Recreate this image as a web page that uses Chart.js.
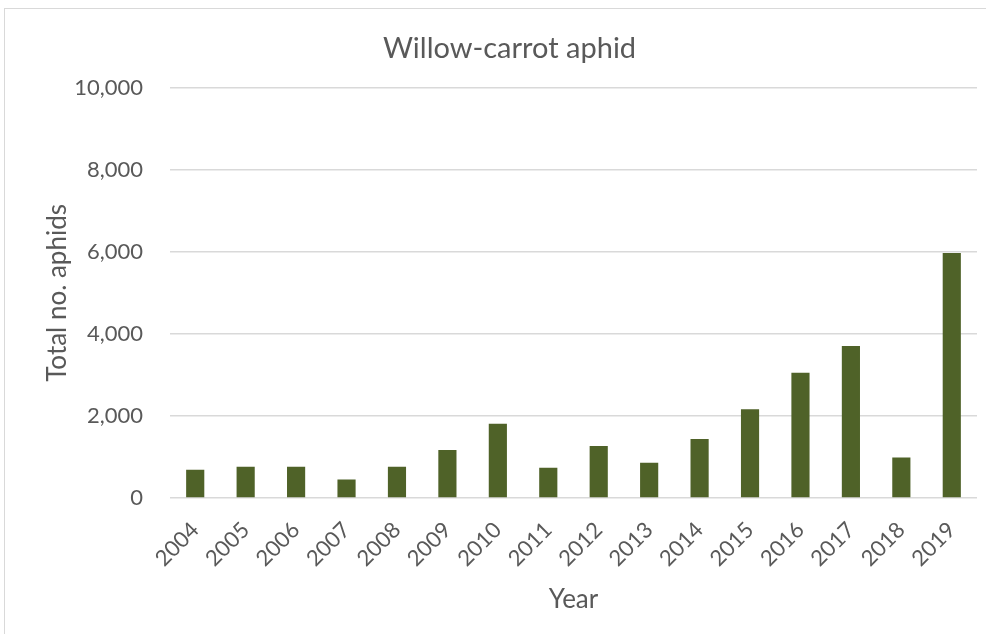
<!DOCTYPE html>
<html>
<head>
<meta charset="utf-8">
<script src="https://cdn.jsdelivr.net/npm/chart.js@4"></script>
<style>
  html, body { margin: 0; padding: 0; background: #fff; overflow: hidden; }
  #frame {
    position: absolute; left: 4px; top: 8px; width: 1000px; height: 640px;
    border-top: 1.5px solid #d9d9d9; border-left: 1.5px solid #d9d9d9;
  }
  #wrap { position: absolute; left: 0; top: 0; width: 986px; height: 634px; }
</style>
</head>
<body>
<div id="frame"></div>
<div id="wrap"><canvas id="myChart"></canvas></div>
<script>
'use strict';

let years = ['2004', '2005', '2006', '2007', '2008', '2009', '2010', '2011',
  '2012', '2013', '2014', '2015', '2016', '2017', '2018', '2019'];
let aphidTotals = [690, 760, 760, 450, 760, 1170, 1810, 735,
  1266, 857, 1437, 2164, 3053, 3706, 989, 5973];
let yTicks = [0, 2000, 4000, 6000, 8000, 10000];

let textGrey = '#595959';
let fontName = 'Lato';
let ctx = document.getElementById('myChart');

new Chart(ctx, {
  type: 'bar',
  data: {
    labels: years,
    datasets: [{
      label: 'Total no. aphids',
      data: aphidTotals,
      backgroundColor: '#4f6228',
      borderWidth: 0,
      categoryPercentage: 1,
      barPercentage: 0.36
    }]
  },
  options: {
    responsive: true,
    maintainAspectRatio: false,
    animation: false,
    layout: { padding: { left: 42, right: 9, top: 0, bottom: 0 } },
    plugins: {
      legend: { display: false },
      tooltip: { enabled: false },
      title: {
        display: true,
        text: 'Willow-carrot aphid',
        color: textGrey,
        font: { family: fontName, size: 29, weight: 'normal' },
        padding: { top: 31, bottom: 22 }
      }
    },
    scales: {
      x: {
        grid: { display: false },
        border: { display: false },
        ticks: {
          color: textGrey,
          font: { family: fontName, size: 22 },
          minRotation: 45,
          maxRotation: 45,
          padding: 11
        },
        title: {
          display: true,
          text: 'Year',
          color: textGrey,
          font: { family: fontName, size: 26 },
          padding: { top: 0, bottom: 19 }
        },
        afterFit: function(scale) { scale.height = 136; }
      },
      y: {
        min: 0,
        max: 10000,
        afterBuildTicks: function(scale) {
          scale.ticks = yTicks.map(v => ({ value: v }));
        },
        grid: { color: '#d9d9d9', lineWidth: 1.5, drawTicks: false },
        border: { display: false },
        ticks: {
          color: textGrey,
          font: { family: fontName, size: 22 },
          padding: 27,
          callback: function(v) { return Number(v).toLocaleString('en-US'); }
        },
        title: {
          display: true,
          text: 'Total no. aphids',
          color: textGrey,
          font: { family: fontName, size: 26 },
          padding: { top: 0, bottom: 0 }
        },
        afterFit: function(scale) { scale.width = 128; }
      }
    }
  }
});
</script>
</body>
</html>
